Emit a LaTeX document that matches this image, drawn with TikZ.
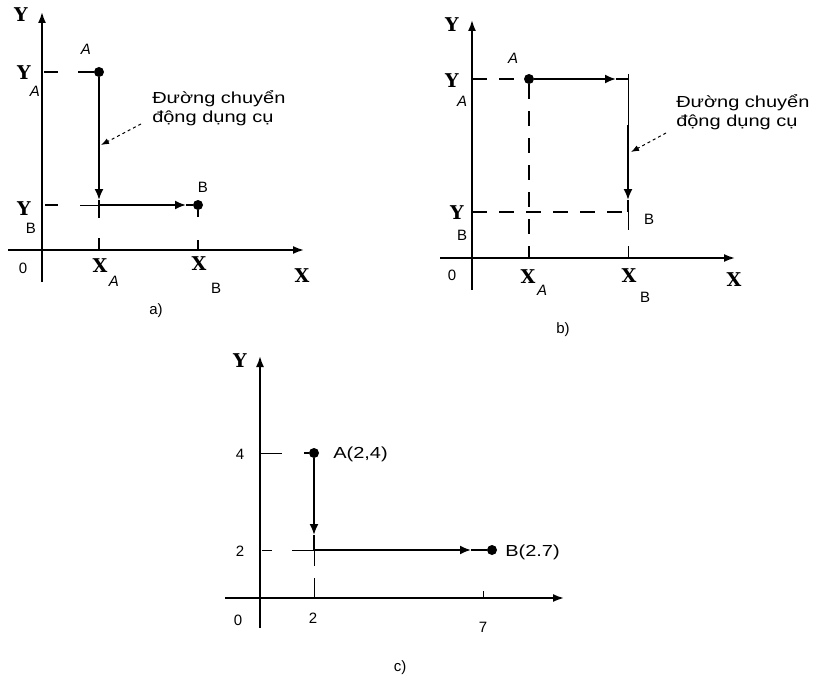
\documentclass[tikz,border=0pt]{standalone}
\usepackage{fontspec}
\setmainfont{Liberation Sans}
\newfontfamily\labfont{DejaVu Serif}
\usetikzlibrary{arrows.meta}
\tikzset{
  ax/.style={line width=1.8pt,-{Latex[length=11pt,width=8pt]}},
  axl/.style={line width=1.8pt},
  path/.style={line width=1.9pt},
  pathar/.style={line width=1.9pt,-{Latex[length=11pt,width=9pt]}},
  thin/.style={line width=1pt},
  dsh/.style={line width=1.2pt,dash pattern=on 15pt off 12pt},
  dot/.style={circle,fill=black,inner sep=0pt,minimum size=10pt},
  lab/.style={font=\labfont\bfseries\fontsize{19}{19}\selectfont,inner sep=0pt},
  sub/.style={font=\fontsize{15}{15}\selectfont,inner sep=0pt},
  txt/.style={font=\fontsize{16}{19}\selectfont,xscale=1.25,align=left,inner sep=0pt},
  small/.style={font=\fontsize{15}{15}\selectfont,inner sep=0pt},
  note/.style={line width=1pt,dashed,-{Latex[length=8pt,width=6pt]}}
}
\begin{document}
\begin{tikzpicture}[x=1pt,y=-1pt]
\useasboundingbox (0,0) rectangle (827,682);
% ================= a) =================
\coordinate (aYb) at (42,282);
\coordinate (aYt) at (42,12);
\coordinate (aXl) at (8,250);
\coordinate (aXr) at (304,250);
\draw[ax] (aYb) -- (aYt);
\draw[ax] (aXl) -- (aXr);
\node[dot] (aA) at (99,72) {};
\coordinate (aC) at (99,205);
\node[dot] (aB) at (198,205) {};
\coordinate (aAm) at (99,200);
\coordinate (aBm) at (186,205);
% Y_A
\draw[axl] (44,72) -- (58,72);
\coordinate (aYAs) at (78,72);
\draw[path] (aYAs) -- (aA);
% A -> C
\draw[pathar] (aA) -- (aAm);
\draw[path] (aAm) -- (aC);
% C -> B
\draw[pathar] (aC) -- (aBm);
\draw[path] (aBm) -- (aB);
% Y_B
\draw[axl] (45,205) -- (58,205);
\coordinate (aYBs) at (80,205);
\draw[thin] (aYBs) -- (aC);
% below C and B
\draw[path] (aC) -- (99,218);
\draw[path] (99,238) -- (99,250);
\draw[path] (aB) -- (198,217);
\draw[path] (198,240) -- (198,250);
% labels
\node[lab] (aYl) at (21,15) {Y};
\node[lab] (aXl2) at (302,276) {X};
\node[lab] (aYA) at (24,73) {Y};
\node[sub] (aYAi) at (35,91) {\itshape A};
\node[lab] (aYB) at (24,209) {Y};
\node[sub] (aYBi) at (31,228) {B};
\node[small] (aO) at (23,268) {0};
\node[lab] (aXA) at (100,266) {X};
\node[sub] (aXAi) at (114,281) {\itshape A};
\node[lab] (aXB) at (199,264) {X};
\node[sub] (aXBi) at (216,288) {B};
\node[sub] (aAl) at (86,49) {\itshape A};
\node[sub] (aBl) at (203,187) {B};
\node[txt,anchor=west] (aT) at (152,108) {Đường chuyển\\động dụng cụ};
\coordinate (aNs) at (141,124);
\coordinate (aNe) at (101,145);
\draw[note] (aNs) -- (aNe);
\node[small] (acap) at (156,311) {a)};
% ================= b) =================
\coordinate (bYb) at (472,290);
\coordinate (bYt) at (472,20);
\coordinate (bXl) at (440,258);
\coordinate (bXr) at (735,258);
\draw[ax] (bYb) -- (bYt);
\draw[ax] (bXl) -- (bXr);
\node[dot] (bA) at (529,79) {};
\coordinate (bP) at (628,79);
\coordinate (bB) at (628,212);
\coordinate (bAm) at (616,79);
\coordinate (bPm) at (628,200);
\draw[dsh] (472,79) -- (bA);
\draw[pathar] (bA) -- (bAm);
\draw[path] (bAm) -- (bP);
\draw[thin] (628,74) -- (628,84);
\draw[thin] (bP) -- (628,125);
\draw[pathar] (628,125) -- (bPm);
\draw[path] (bPm) -- (bB);
\draw[dsh] (bA) -- (529,258);
\draw[dsh] (472,212) -- (bB);
\draw[thin] (bB) -- (628,230);
\draw[thin] (628,246) -- (628,258);
\node[lab] (bYl) at (452,25) {Y};
\node[lab] (bXl2) at (734,280) {X};
\node[lab] (bYA) at (452,81) {Y};
\node[sub] (bYAi) at (462,101) {\itshape A};
\node[lab] (bYB) at (457,213) {Y};
\node[sub] (bYBi) at (462,235) {B};
\node[small] (bO) at (452,275) {0};
\node[lab] (bXA) at (528,277) {X};
\node[sub] (bXAi) at (542,290) {\itshape A};
\node[lab] (bXB) at (629,276) {X};
\node[sub] (bXBi) at (645,297) {B};
\node[sub] (bAl) at (513,58) {\itshape A};
\node[sub] (bBl) at (649,219) {B};
\node[txt,anchor=west] (bT) at (676,112) {Đường chuyển\\động dụng cụ};
\coordinate (bNs) at (666,133);
\coordinate (bNe) at (631,152);
\draw[note] (bNs) -- (bNe);
\node[small] (bcap) at (563,330) {b)};
% ================= c) =================
\coordinate (cYb) at (260,628);
\coordinate (cYt) at (260,356);
\coordinate (cXl) at (225,598);
\coordinate (cXr) at (564,598);
\draw[ax] (cYb) -- (cYt);
\draw[ax] (cXl) -- (cXr);
\node[dot] (cA) at (314,453) {};
\coordinate (cC) at (314,550);
\node[dot] (cB) at (492,550) {};
\coordinate (cAm) at (314,535);
\coordinate (cBm) at (471,550);
\draw[thin] (260,453) -- (282,453);
\draw[path] (304,453) -- (cA);
\draw[pathar] (cA) -- (cAm);
\draw[path] (cAm) -- (cC);
\draw[thin] (262,550) -- (272,550);
\draw[thin] (292,550) -- (cC);
\draw[pathar] (cC) -- (cBm);
\draw[path] (cBm) -- (cB);
\draw[path] (461,550) -- (468,550);
\draw[thin] (cC) -- (314,566);
\draw[thin] (314,578) -- (314,598);
\draw[thin] (483,591) -- (483,598);
\node[lab] (cYl) at (240,361) {Y};
\node[small] (c4) at (240,454) {4};
\node[small] (c2) at (240,551) {2};
\node[small] (cO) at (238,620) {0};
\node[small] (cx2) at (313,618) {2};
\node[small] (cx7) at (483,627) {7};
\node[txt,anchor=west] (cAl) at (333,454) {A(2,4)};
\node[txt,anchor=west] (cBl) at (505,552) {B(2.7)};
\node[small] (ccap) at (400,668) {c)};
\end{tikzpicture}
\end{document}
